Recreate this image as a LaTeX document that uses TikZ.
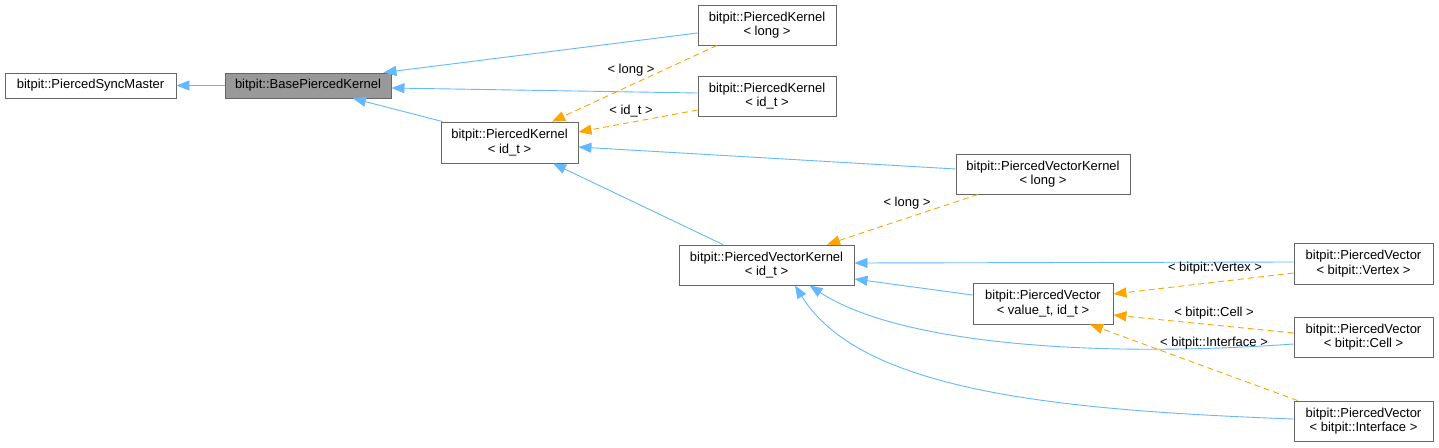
\documentclass[tikz,border=0pt]{standalone}
\usepackage{fontspec}
\setmainfont{Liberation Sans}
\usetikzlibrary{arrows.meta}
\definecolor{edgeblue}{HTML}{63B8FF}
\definecolor{edgeorange}{HTML}{FFA500}
\definecolor{boxgray}{HTML}{666666}
\definecolor{bpkfill}{HTML}{999999}
\begin{document}
\begin{tikzpicture}[x=1pt,y=-1pt,
  cls/.style={draw=boxgray, fill=white, line width=0.9pt, inner sep=0pt, align=center,
    font=\fontsize{13}{14.5}\selectfont, text=black},
  inh/.style={draw=edgeblue, line width=0.9pt, -{Triangle[length=13pt,width=10pt]}},
  tpl/.style={draw=edgeorange, line width=0.9pt, dash pattern=on 6pt off 4pt,
    -{Triangle[length=13pt,width=10pt]}},
  lbl/.style={font=\fontsize{13}{14.5}\selectfont, inner sep=0pt, text=black}]
\useasboundingbox[fill=white] (0,0) rectangle (1439,447);

% nodes
\node[cls, minimum width=171pt, minimum height=25pt] (sm) at (90.5,85.5) {bitpit::PiercedSyncMaster};
\node[cls, fill=bpkfill, minimum width=166pt, minimum height=25pt] (bpk) at (308,85.5) {bitpit::BasePiercedKernel};
\node[cls, minimum width=138pt, minimum height=40pt] (pkl) at (767,25) {bitpit::PiercedKernel\\{}< long >};
\node[cls, minimum width=138pt, minimum height=40pt] (pki2) at (767,96) {bitpit::PiercedKernel\\{}< id\_t >};
\node[cls, minimum width=137pt, minimum height=41pt] (pki) at (509.5,142.5) {bitpit::PiercedKernel\\{}< id\_t >};
\node[cls, minimum width=174pt, minimum height=40pt] (pvkl) at (1043,174) {bitpit::PiercedVectorKernel\\{}< long >};
\node[cls, minimum width=175pt, minimum height=40pt] (pvki) at (766.5,265) {bitpit::PiercedVectorKernel\\{}< id\_t >};
\node[cls, minimum width=140pt, minimum height=41pt] (pv) at (1043,303.5) {bitpit::PiercedVector\\{}< value\_t, id\_t >};
\node[cls, minimum width=139pt, minimum height=41pt] (pvv) at (1363.5,263.5) {bitpit::PiercedVector\\{}< bitpit::Vertex >};
\node[cls, minimum width=139pt, minimum height=40pt] (pvc) at (1363.5,337) {bitpit::PiercedVector\\{}< bitpit::Cell >};
\node[cls, minimum width=139pt, minimum height=40pt] (pvi) at (1363.5,421) {bitpit::PiercedVector\\{}< bitpit::Interface >};

% inheritance edges
\draw[inh] (bpk.west) -- (sm.east);
\draw[inh] ([yshift=-8pt]pkl.west) -- ([xshift=-8pt]bpk.north east);
\draw[inh] ([yshift=3pt]pki2.west) -- ([yshift=-2.5pt]bpk.east);
\draw[inh] ([xshift=2pt]pki.north west) -- ([xshift=45pt]bpk.south);
\draw[inh] ([yshift=5pt]pvkl.west) -- ([yshift=-4.5pt]pki.east);
\draw[inh] ([xshift=-43.5pt]pvki.north) -- ([xshift=43.5pt]pki.south);
\draw[inh] ([yshift=1.5pt]pvv.west) -- ([yshift=2pt]pvki.east);
\draw[inh] ([yshift=8.5pt]pv.west) -- ([yshift=-14pt]pvki.east);
\draw[inh] ([yshift=-7pt]pvc.west) .. controls (1100,358) and (900,345) .. ([xshift=43pt]pvki.south);
\draw[inh] ([yshift=2pt]pvi.west) .. controls (1050,410) and (860,390) .. ([xshift=28.5pt]pvki.south);

% template edges
\draw[tpl] ([xshift=-50pt]pkl.south) -- ([xshift=42.5pt]pki.north);
\draw[tpl] ([yshift=-14pt]pki2.west) -- ([yshift=10.5pt]pki.east);
\draw[tpl] ([xshift=-65pt]pvkl.south) -- ([xshift=60.5pt]pvki.north);
\draw[tpl] ([yshift=-9.5pt]pvv.west) -- ([yshift=9.5pt]pv.east);
\draw[tpl] ([yshift=4pt]pvc.west) -- ([yshift=-11.5pt]pv.east);
\draw[tpl] ([xshift=4pt]pvi.north west) -- ([xshift=47pt]pv.south);

% labels
\node[lbl] (l1) at (631,70) {< long >};
\node[lbl] (l2) at (631,111) {< id\_t >};
\node[lbl] (l3) at (907,203) {< long >};
\node[lbl] (l4) at (1215,268) {< bitpit::Vertex >};
\node[lbl] (l5) at (1214,313) {< bitpit::Cell >};
\node[lbl] (l6) at (1214,343) {< bitpit::Interface >};
\end{tikzpicture}
\end{document}
